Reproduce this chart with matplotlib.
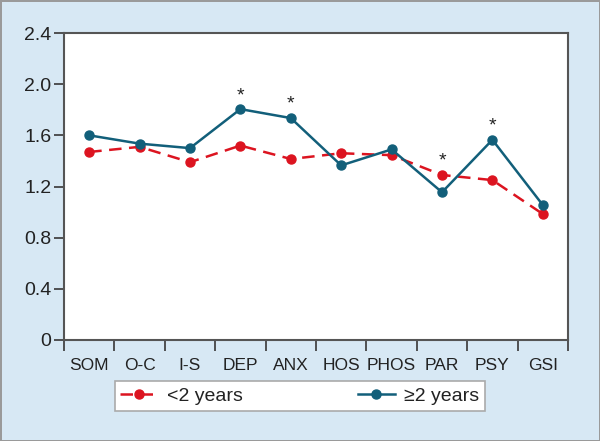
import matplotlib.pyplot as plt
import numpy as np

plt.rcParams['font.family'] = ['Liberation Sans', 'DejaVu Sans']

categories = ["SOM", "O-C", "I-S", "DEP", "ANX", "HOS", "PHOS", "PAR", "PSY", "GSI"]
under_2 = [1.47, 1.51, 1.39, 1.52, 1.415, 1.46, 1.445, 1.29, 1.25, 0.985]
over_2 = [1.60, 1.535, 1.50, 1.805, 1.735, 1.365, 1.49, 1.155, 1.565, 1.055]
starred = ["DEP", "ANX", "PAR", "PSY"]

red = "#dc1420"
blue = "#125f7a"
bg = "#d7e8f4"

fig = plt.figure(figsize=(6, 4.41), dpi=100, facecolor=bg, edgecolor="#9a9a9a", linewidth=2)
ax = fig.add_axes([64 / 600, 101 / 441, 504 / 600, 307 / 441])
ax.set_facecolor("white")

x = np.arange(len(categories)) + 0.5
ax.plot(x, under_2, color=red, linestyle=(0, (5, 3)), linewidth=1.8,
        marker="o", markersize=6.5, label="<2 years")
ax.plot(x, over_2, color=blue, linewidth=1.8,
        marker="o", markersize=6.5, label="\u22652 years")

# significance markers
for i, c in enumerate(categories):
    if c in starred:
        top = max(under_2[i], over_2[i])
        ax.text(x[i], top + 0.04, "*", ha="center", va="bottom", fontsize=14, color="#222222")

ax.set_xlim(0, 10)
ax.set_ylim(0, 2.4)
ax.set_yticks([0, 0.4, 0.8, 1.2, 1.6, 2.0, 2.4])
ax.set_yticklabels(["0", "0.4", "0.8", "1.2", "1.6", "2.0", "2.4"])
ax.set_xticks(np.arange(11))
ax.set_xticklabels([])
ax.set_xticks(x, minor=True)
ax.set_xticklabels(categories, minor=True)
ax.tick_params(axis="x", which="major", length=8, width=1.3, color="#444444", direction="out")
ax.tick_params(axis="x", which="minor", length=0, labelsize=12.5, pad=13, labelcolor="#222222")
ax.tick_params(axis="y", length=7, width=1.3, color="#444444", labelsize=14, labelcolor="#222222", pad=2)

for s in ax.spines.values():
    s.set_color("#555555")
    s.set_linewidth(1.5)

leg = fig.legend(loc="center", bbox_to_anchor=(300 / 600, 1 - 396 / 441), ncol=2,
                 frameon=True, fancybox=False, fontsize=14, columnspacing=5.9,
                 handlelength=1.9, handletextpad=0.5, borderpad=0.3, borderaxespad=0,
                 edgecolor="#aaaaaa", framealpha=1)
leg.get_frame().set_linewidth(1.2)
for t in leg.get_texts():
    t.set_color("#222222")

fig.savefig("out.png", dpi=100, facecolor=bg, edgecolor="#9a9a9a")
